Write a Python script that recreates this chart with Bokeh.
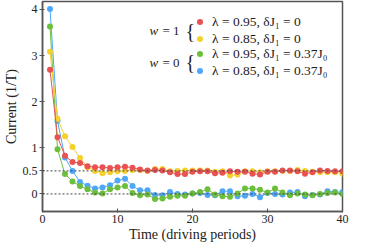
from bokeh.plotting import figure
from bokeh.models import Range1d, FixedTicker, Span, Legend, LegendItem, Label
from bokeh.embed import file_html
from bokeh.resources import INLINE

# ---- data ----
t = list(range(1, 41))
red = [2.69, 1.23, 0.83, 0.69, 0.67, 0.60, 0.58, 0.58, 0.56, 0.58,
       0.59, 0.57, 0.53, 0.51, 0.52, 0.51, 0.47, 0.43, 0.43, 0.48,
       0.49, 0.49, 0.45, 0.46, 0.49, 0.48, 0.48, 0.44, 0.42, 0.48,
       0.48, 0.51, 0.51, 0.49, 0.44, 0.47, 0.51, 0.50, 0.49, 0.49]
yellow = [3.08, 1.63, 1.25, 1.02, 0.78, 0.58, 0.50, 0.45, 0.47, 0.49,
          0.50, 0.52, 0.52, 0.50, 0.54, 0.54, 0.49, 0.50, 0.51, 0.51,
          0.51, 0.51, 0.48, 0.49, 0.40, 0.42, 0.49, 0.49, 0.47, 0.49,
          0.49, 0.50, 0.50, 0.52, 0.50, 0.48, 0.47, 0.47, 0.47, 0.44]
green = [3.63, 0.97, 0.43, 0.27, 0.17, 0.10, 0.03, 0.01, 0.10, 0.14,
         0.17, 0.02, -0.03, -0.01, -0.11, -0.10, -0.06, -0.04, -0.04, 0.01,
         0.04, 0.10, -0.01, -0.05, -0.06, 0.01, 0.12, 0.12, 0.09, 0.03,
         0.12, 0.03, -0.03, 0.01, -0.01, -0.03, 0.00, 0.02, 0.03, 0.00]
blue = [4.01, 1.58, 0.79, 0.50, 0.26, 0.18, 0.12, 0.14, 0.19, 0.29,
        0.33, 0.17, 0.08, 0.08, -0.02, -0.03, 0.04, 0.00, -0.01, 0.01,
        0.02, -0.02, -0.03, 0.06, 0.06, -0.05, -0.04, 0.00, -0.07, 0.02,
        0.00, -0.01, 0.03, 0.04, -0.05, -0.02, -0.01, 0.06, 0.04, 0.04]
labels = ["λ = 0.95, δJ₁ = 0", "λ = 0.85, δJ₁ = 0",
          "λ = 0.95, δJ₁ = 0.37J₀", "λ = 0.85, δJ₁ = 0.37J₀"]
group_labels = ["w", "= 1", "w", "= 0"]
y_ticks = [0, 0.5, 1, 2, 3, 4]
x_ticks = [0, 10, 20, 30, 40]
ref_levels = [0, 0.5]

colors = {"red": "#EA5152", "yellow": "#F5D12C", "green": "#6CBF3C", "blue": "#4EA7F8"}
FONT = "Liberation Serif"
INK = "#222222"

p = figure(width=366, height=244, output_backend="svg", toolbar_location=None,
           x_range=Range1d(0, 40), y_range=Range1d(-0.38, 4.17),
           min_border_left=37, min_border_right=24, min_border_top=1,
           min_border_bottom=0)
p.grid.visible = False
p.outline_line_color = "#555555"
p.outline_line_width = 1.5

for ax in (p.xaxis[0], p.yaxis[0]):
    ax.axis_line_color = "#555555"
    ax.axis_line_width = 1.5
    ax.major_tick_line_color = "#555555"
    ax.minor_tick_line_color = None
    ax.major_label_text_font = FONT
    ax.major_label_text_font_size = "12px"
    ax.major_label_text_color = INK
    ax.axis_label_text_font = FONT
    ax.axis_label_text_font_size = "14px"
    ax.axis_label_text_font_style = "normal"
    ax.axis_label_text_color = INK
    ax.major_label_standoff = 2
    ax.axis_label_standoff = 1
    ax.axis_label_text_line_height = 1.0
    ax.major_label_text_line_height = 1.0

p.xaxis.ticker = FixedTicker(ticks=x_ticks)
p.yaxis.ticker = FixedTicker(ticks=y_ticks)
p.yaxis.major_label_overrides = {0: "0", 0.5: "0.5", 1: "1", 2: "2", 3: "3", 4: "4"}
p.xaxis.major_tick_in = 3
p.xaxis.major_tick_out = 1
p.yaxis.major_tick_in = 2
p.yaxis.major_tick_out = 3
p.xaxis.axis_label = "Time (driving periods)"
p.yaxis.axis_label = "Current (1/T)"

for v in ref_levels:
    p.add_layout(Span(location=v, dimension="width", line_color="#444444",
                      line_width=1, line_dash="2 2"))

series = [("blue", blue), ("green", green), ("yellow", yellow), ("red", red)]
sc = {}
for name, ys in series:
    p.line(t, ys, line_color=colors[name], line_width=1)
    sc[name] = p.scatter(t, ys, size=6, fill_color=colors[name], line_color=None)

groups = [(["red", "yellow"], [labels[0], labels[1]], 164),
          (["green", "blue"], [labels[2], labels[3]], 132)]
for names, labs, ly in groups:
    items = [LegendItem(label=lab, renderers=[sc[n]]) for n, lab in zip(names, labs)]
    p.add_layout(Legend(items=items, location=(150, ly), border_line_color=None,
                        background_fill_alpha=0, glyph_width=15, glyph_height=17,
                        label_height=17, spacing=0, padding=0, margin=0,
                        label_standoff=5, label_text_font=FONT,
                        label_text_font_size="13.5px", label_text_color=INK))

for i, yy in enumerate([181, 149.5]):
    p.add_layout(Label(x=107, y=yy, x_units="screen", y_units="screen",
                       text=group_labels[2 * i], text_font=FONT,
                       text_font_style="italic", text_font_size="13px",
                       text_baseline="middle", text_color=INK))
    p.add_layout(Label(x=120, y=yy, x_units="screen", y_units="screen",
                       text=group_labels[2 * i + 1], text_font=FONT,
                       text_font_size="13px", text_baseline="middle",
                       text_color=INK))
    p.add_layout(Label(x=143, y=yy, x_units="screen", y_units="screen",
                       text="{", text_font=FONT, text_font_size="20px",
                       text_baseline="middle", text_color=INK))

open("out.html", "w").write(file_html(p, INLINE))
